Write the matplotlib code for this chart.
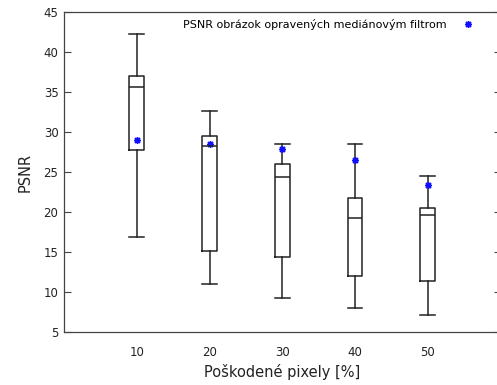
import matplotlib
matplotlib.use("Agg")
import matplotlib.pyplot as plt
from matplotlib.lines import Line2D

positions = [10, 20, 30, 40, 50]
whislo = [16.9, 11.0, 9.3, 8.05, 7.1]
q1 = [27.8, 15.1, 14.35, 12.05, 11.4]
med = [35.6, 28.25, 24.4, 19.2, 19.6]
q3 = [37.05, 29.55, 25.95, 21.7, 20.55]
whishi = [42.25, 32.65, 28.5, 28.5, 24.55]
means = [29.0, 28.55, 27.9, 26.5, 23.4]
yticks = [5, 10, 15, 20, 25, 30, 35, 40, 45]
xticks = [10, 20, 30, 40, 50]
legend_label = "PSNR obrázok opravených mediánovým filtrom"

plt.rcParams['font.family'] = ['DejaVu Sans']
fig = plt.figure(figsize=(4.97, 3.85), dpi=100)
ax = fig.add_axes([64/497, 1-332/385, 436.5/497, 320/385])

stats = [dict(whislo=a, q1=b, med=c, q3=d, whishi=e) for a, b, c, d, e in zip(whislo, q1, med, q3, whishi)]
lc = '#222222'
ax.bxp(stats, positions=positions, widths=2.0, capwidths=2.0, showfliers=False,
       boxprops=dict(color=lc, linewidth=1.1),
       whiskerprops=dict(color=lc, linewidth=1.1),
       capprops=dict(color=lc, linewidth=1.1),
       medianprops=dict(color=lc, linewidth=1.1))
ax.plot(positions, means, linestyle='none', marker=(8, 2, 0), markersize=5,
        color='#1010ff', markeredgewidth=1.0)

ax.set_xlim(0, 60)
ax.set_ylim(5, 45)
ax.set_yticks(yticks)
ax.set_xticks(xticks)
ax.set_xticklabels([str(x) for x in xticks])
ax.tick_params(axis='y', direction='in', length=5, width=0.8, color='#444444',
               left=True, right=True, labelsize=8.5, labelcolor='#222222', pad=4)
ax.tick_params(axis='x', length=0, labelsize=8.5, labelcolor='#222222', pad=10)
for s in ['left', 'bottom', 'top']:
    ax.spines[s].set_color('#444444')
    ax.spines[s].set_linewidth(0.9)
ax.spines['right'].set_visible(False)

ax.set_xlabel("Poškodené pixely [%]", fontsize=10.5, color='#222222', labelpad=4)
ax.set_ylabel("PSNR", fontsize=10.5, color='#222222', labelpad=8)

h = Line2D([], [], linestyle='none', marker=(8, 2, 0), markersize=5, color='#1010ff', markeredgewidth=1.0)
ax.legend([h], [legend_label], loc='upper right', bbox_to_anchor=(474/497, 1-19/385),
          bbox_transform=fig.transFigure, frameon=False, markerfirst=False,
          fontsize=8, handlelength=1.0, handletextpad=1.5, borderaxespad=0, borderpad=0)

fig.savefig("out.png", dpi=100)
